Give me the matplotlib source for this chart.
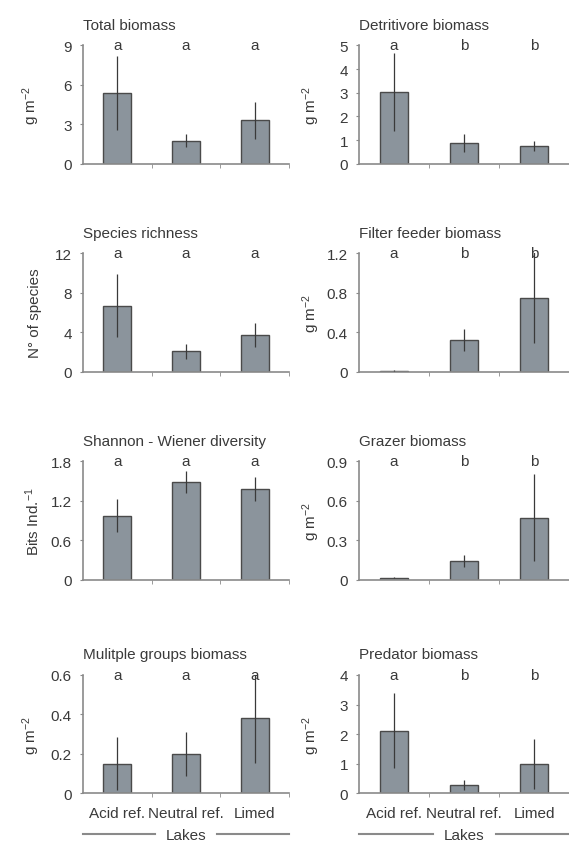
import matplotlib
matplotlib.use("Agg")
import matplotlib.pyplot as plt
from matplotlib.ticker import FuncFormatter

plt.rcParams['font.family'] = ['Liberation Sans', 'DejaVu Sans']
plt.rcParams['mathtext.fontset'] = 'custom'
plt.rcParams['mathtext.rm'] = 'Liberation Sans'
plt.rcParams['mathtext.it'] = 'Liberation Sans:italic'
plt.rcParams['font.size'] = 11

lakes = ['Acid ref.', 'Neutral ref.', 'Limed']

# means and error bars
total_mean = [5.4, 1.75, 3.3]
total_err = [2.8, 0.5, 1.4]
detr_mean = [3.05, 0.87, 0.74]
detr_err = [1.65, 0.37, 0.22]
rich_mean = [6.7, 2.05, 3.7]
rich_err = [3.2, 0.75, 1.25]
filt_mean = [0.01, 0.32, 0.75]
filt_err = [0.005, 0.11, 0.46]
shan_mean = [0.97, 1.48, 1.38]
shan_err = [0.25, 0.17, 0.18]
graz_mean = [0.015, 0.14, 0.47]
graz_err = [0.005, 0.047, 0.33]
mult_mean = [0.15, 0.2, 0.38]
mult_err = [0.135, 0.11, 0.225]
pred_mean = [2.12, 0.28, 1.0]
pred_err = [1.27, 0.16, 0.85]

gm2 = 'g m$^{-2}$'
panels = [
    ('Total biomass', total_mean, total_err, ['a', 'a', 'a'], 9, 3, gm2),
    ('Detritivore biomass', detr_mean, detr_err, ['a', 'b', 'b'], 5, 1, gm2),
    ('Species richness', rich_mean, rich_err, ['a', 'a', 'a'], 12, 4, 'N° of species'),
    ('Filter feeder biomass', filt_mean, filt_err, ['a', 'b', 'b'], 1.2, 0.4, gm2),
    ('Shannon - Wiener diversity', shan_mean, shan_err, ['a', 'a', 'a'], 1.8, 0.6, 'Bits Ind.$^{-1}$'),
    ('Grazer biomass', graz_mean, graz_err, ['a', 'b', 'b'], 0.9, 0.3, gm2),
    ('Mulitple groups biomass', mult_mean, mult_err, ['a', 'a', 'a'], 0.6, 0.2, gm2),
    ('Predator biomass', pred_mean, pred_err, ['a', 'b', 'b'], 4, 1, gm2),
]

txt = '#3a3a3a'
axc = '#8a8a8a'
barc = '#8b949c'

fig = plt.figure(figsize=(5.69, 8.45), dpi=100)
lefts = [0.146, 0.631]
widths = [0.362, 0.369]
bottoms = [0.805, 0.559, 0.313, 0.060]
h = 0.140

x = [0, 1, 2]
for i, (title, mean, err, letters, ymax, step, ylab) in enumerate(panels):
    row, col = i // 2, i % 2
    ax = fig.add_axes([lefts[col], bottoms[row], widths[col], h])
    ax.bar(x, mean, width=0.41, color=barc, edgecolor='#4a4a4a', linewidth=1.0, zorder=2)
    ax.errorbar(x, mean, yerr=err, fmt='none', ecolor='#3a3a3a', elinewidth=0.9, capsize=0, zorder=3)
    ax.set_xlim(-0.5, 2.5)
    ax.set_ylim(0, ymax)
    n = int(round(ymax / step))
    ax.set_yticks([step * k for k in range(n + 1)])
    ax.yaxis.set_major_formatter(FuncFormatter(lambda v, p: '%g' % round(v, 2)))
    for s in ['top', 'right']:
        ax.spines[s].set_visible(False)
    for s in ['left', 'bottom']:
        ax.spines[s].set_color(axc)
        ax.spines[s].set_linewidth(1.2)
    ax.tick_params(axis='y', length=2, color=axc, labelcolor=txt, labelsize=11, pad=6)
    ax.set_xticks(x)
    ax.set_xticks([0.5, 1.5, 2.5], minor=True)
    ax.tick_params(axis='x', which='major', length=0, labelcolor=txt, labelsize=11, pad=9)
    ax.tick_params(axis='x', which='minor', length=3, color=axc)
    if row == 3:
        ax.set_xticklabels(lakes)
    else:
        ax.set_xticklabels([])
    ax.set_title(title, loc='left', fontsize=11, color=txt, pad=12)
    for xi, l in zip(x, letters):
        ax.text(xi, ymax, l, ha='center', va='center', fontsize=11, color=txt)
    ax.set_ylabel(ylab, fontsize=11, color=txt)
    if col == 0:
        ax.yaxis.set_label_coords(-0.20, 0.5)
    else:
        ax.yaxis.set_label_coords(-0.175, 0.5)
    if row == 3:
        ax.text(0.5, -0.355, 'Lakes', transform=ax.transAxes, ha='center', va='center',
                fontsize=11, color=txt, clip_on=False)
        ax.plot([0.0, 0.35], [-0.345, -0.345], transform=ax.transAxes, color=axc, lw=1.5, clip_on=False)
        ax.plot([0.65, 1.0], [-0.345, -0.345], transform=ax.transAxes, color=axc, lw=1.5, clip_on=False)

fig.savefig('out.png', dpi=100)
